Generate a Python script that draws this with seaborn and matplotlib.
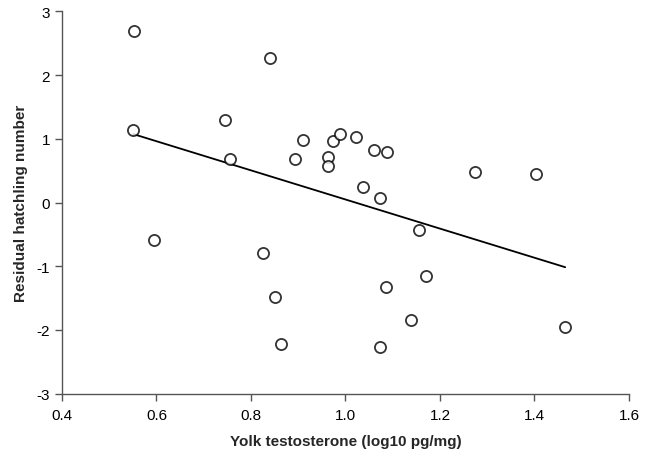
import numpy as np
import pandas as pd
import matplotlib
matplotlib.use("Agg")
import matplotlib.pyplot as plt
import seaborn as sns

yolk_t = [0.552, 0.551, 0.840, 0.746, 0.756, 0.894, 0.909, 0.963, 0.963, 0.973,
          0.988, 1.023, 1.060, 1.087, 1.037, 1.074, 1.274, 1.404, 0.595, 0.825,
          0.851, 0.864, 1.156, 1.171, 1.086, 1.139, 1.073, 1.465]
resid = [2.69, 1.14, 2.26, 1.295, 0.683, 0.683, 0.98, 0.71, 0.573, 0.96,
         1.075, 1.03, 0.82, 0.80, 0.24, 0.07, 0.48, 0.45, -0.59, -0.79,
         -1.48, -2.22, -0.43, -1.16, -1.33, -1.84, -2.27, -1.95]
x_ticks = [0.4, 0.6, 0.8, 1.0, 1.2, 1.4, 1.6]
y_ticks = [-3, -2, -1, 0, 1, 2, 3]

df = pd.DataFrame({"x": yolk_t, "y": resid})

sns.set_style("white")
plt.rcParams['font.family'] = ['Liberation Sans', 'DejaVu Sans']

fig = plt.figure(figsize=(6.52, 4.52), dpi=100)
ax = fig.add_axes([62/652, 1-394.7/452, (629-62)/652, (394.7-12.3)/452])

sns.regplot(data=df, x="x", y="y", ax=ax, ci=None, truncate=True,
            scatter_kws=dict(s=64, facecolors="white", edgecolors="black", linewidths=1.3, zorder=3),
            line_kws=dict(color="black", linewidth=1.3, zorder=2))

ax.set_xlim(0.4, 1.6)
ax.set_ylim(-3, 3)
ax.set_xticks(x_ticks)
ax.set_xticklabels([f"{v:.1f}" for v in x_ticks])
ax.set_yticks(y_ticks)
ax.set_yticklabels([str(v) for v in y_ticks])
for s in ["top", "right"]:
    ax.spines[s].set_visible(False)
for s in ["left", "bottom"]:
    ax.spines[s].set_color("#555555")
    ax.spines[s].set_linewidth(1.0)
ax.tick_params(axis="both", direction="out", length=5, width=1.0, color="#555555",
               labelsize=11, labelcolor="black", left=True, bottom=True)
ax.tick_params(axis="x", pad=5)
ax.set_xlabel("Yolk testosterone (log10 pg/mg)", fontsize=11, fontweight="bold", labelpad=9)
ax.set_ylabel("Residual hatchling number", fontsize=11, fontweight="bold", labelpad=6)

fig.savefig("out.png", dpi=100)
